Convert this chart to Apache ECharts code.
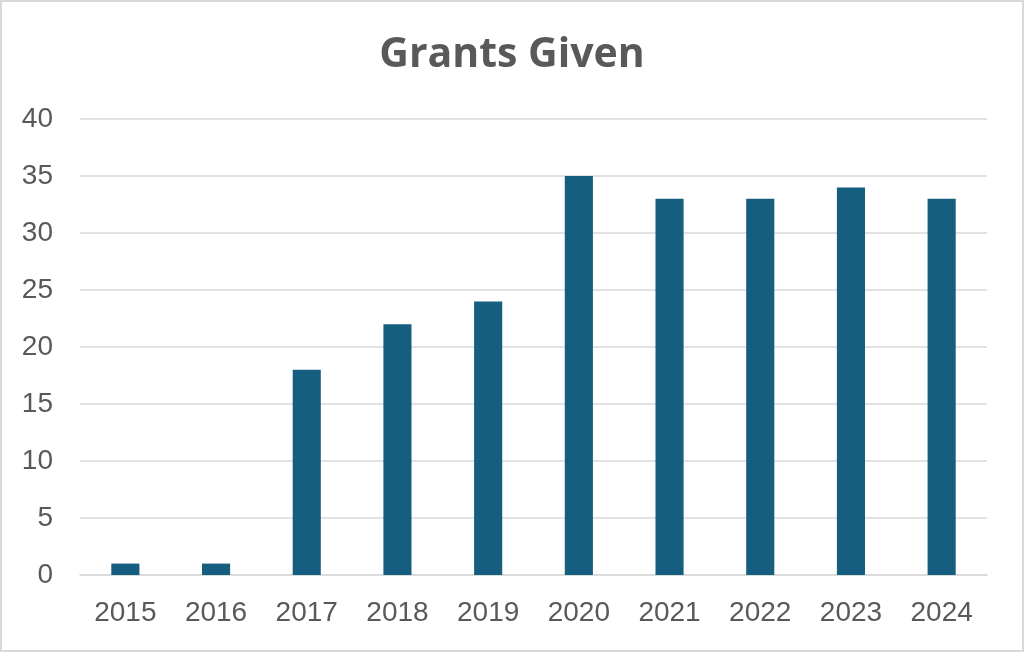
<!DOCTYPE html>
<html>
<head>
<meta charset="utf-8">
<script src="https://cdn.jsdelivr.net/npm/echarts@6/dist/echarts.min.js"></script>
<style>
html,body{margin:0;padding:0;background:#fff;}
#chart{width:1024px;height:652px;}
</style>
</head>
<body>
<div id="chart"></div>
<script>
const categories = ['2015','2016','2017','2018','2019','2020','2021','2022','2023','2024'];
const grants = [1, 1, 18, 22, 24, 35, 33, 33, 34, 33];
const yTicks = { min: 0, max: 40, interval: 5 };

const chart = echarts.init(document.getElementById('chart'), null, { renderer: 'canvas' });
chart.setOption({
  backgroundColor: '#ffffff',
  animation: false,
  title: {
    text: 'Grants Given',
    left: 'center',
    top: 30,
    textStyle: { fontFamily: 'Open Sans', fontWeight: 'bold', fontSize: 41, color: '#595959' }
  },
  graphic: [{
    type: 'rect',
    shape: { x: 1, y: 1, width: 1022, height: 650 },
    style: { fill: 'none', stroke: '#d9d9d9', lineWidth: 2 },
    silent: true
  }],
  grid: { left: 80, right: 37, top: 119, bottom: 77, containLabel: false },
  xAxis: {
    type: 'category',
    data: categories,
    axisLine: { lineStyle: { color: '#d9d9d9', width: 1.5 } },
    axisTick: { show: false },
    axisLabel: { color: '#595959', fontFamily: 'Liberation Sans', fontSize: 28, margin: 24 }
  },
  yAxis: {
    type: 'value',
    min: yTicks.min, max: yTicks.max, interval: yTicks.interval,
    axisLine: { show: false },
    axisTick: { show: false },
    splitLine: { lineStyle: { color: '#d9d9d9', width: 1.5 } },
    axisLabel: { color: '#595959', fontFamily: 'Liberation Sans', fontSize: 28, margin: 27 }
  },
  series: [{
    type: 'bar',
    data: grants,
    barWidth: '31%',
    itemStyle: { color: '#165e80' }
  }]
});
</script>
</body>
</html>
